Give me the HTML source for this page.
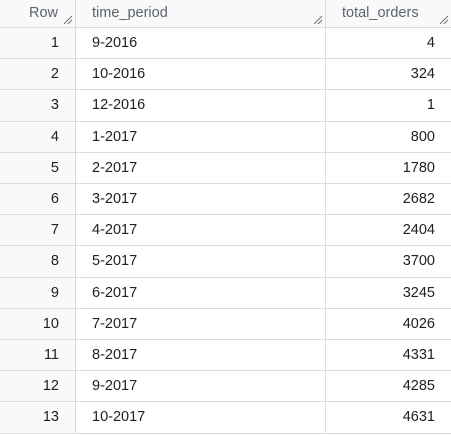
<!DOCTYPE html>
<html><head><meta charset="utf-8"><style>
body{margin:0;width:451px;height:435px;background:#fff;font-family:"Liberation Sans",Arial,sans-serif;font-size:14.5px;color:#202124;overflow:hidden;position:relative}
.c{position:absolute;box-sizing:border-box;border-right:1px solid #dadce0;border-bottom:1px solid #dadce0;display:flex;align-items:center}
.h{background:#f8f9fa;color:#5f6368;top:0;height:28px;padding-bottom:2px}
.rn{background:#f8f9fa;justify-content:flex-end;padding-right:16px}
.tp{padding-left:16px}
.to{justify-content:flex-end;padding-right:16px}
.rs{position:absolute;right:3px;bottom:3px;width:8px;height:8px;background:linear-gradient(135deg,transparent 45%,#777 45%,#777 55%,transparent 55%,transparent 70%,#777 70%,#777 80%,transparent 80%)}
</style></head><body>
<div class="c h" style="left:0;width:76px;justify-content:flex-end;padding-right:17px">Row<span class="rs"></span></div>
<div class="c h" style="left:76px;width:250px;padding-left:16px">time_period<span class="rs"></span></div>
<div class="c h" style="left:326px;width:125px;padding-left:16px;border-right:none">total_orders<span class="rs"></span></div>
<script>
const periods=["9-2016","10-2016","12-2016","1-2017","2-2017","3-2017","4-2017","5-2017","6-2017","7-2017","8-2017","9-2017","10-2017"];
const orders=[4,324,1,800,1780,2682,2404,3700,3245,4026,4331,4285,4631];
for(let i=0;i<periods.length;i++){
  const top=28+i*31.2, h=31.2;
  const a=document.createElement('div');a.className='c rn';a.style.cssText=`left:0;width:76px;top:${top}px;height:${h}px`;a.textContent=i+1;
  
  
  const b=document.createElement('div');b.className='c tp';b.style.cssText=`left:76px;width:250px;top:${top}px;height:${h}px`;b.textContent=periods[i];
  
  
  const c=document.createElement('div');c.className='c to';c.style.cssText=`left:326px;width:125px;top:${top}px;height:${h}px;border-right:none`;c.textContent=orders[i];
  
  
  document.body.append(a,b,c);
}
</script>
</body></html>
